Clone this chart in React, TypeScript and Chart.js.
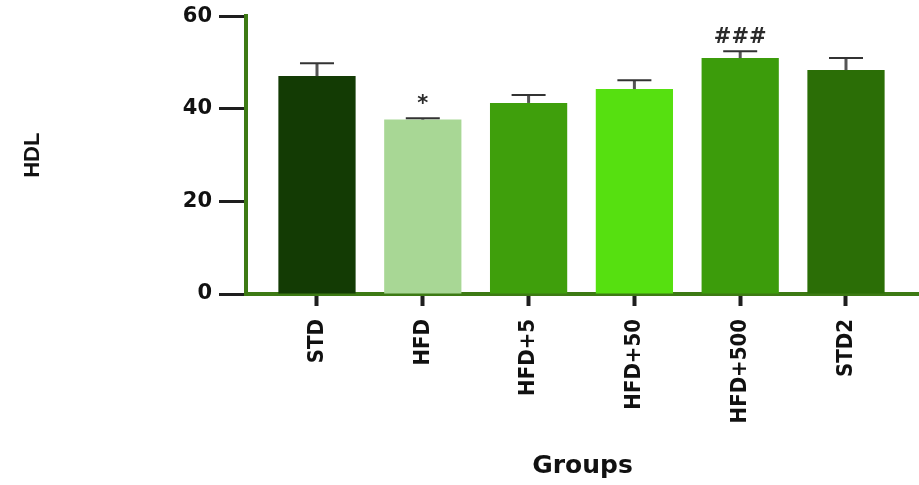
import React, { useEffect, useRef } from "react";
import { Chart, registerables } from "chart.js";

Chart.register(...registerables);

const categories = ["STD", "HFD", "HFD+5", "HFD+50", "HFD+500", "STD2"];
const hdlValues = [47.1, 37.7, 41.3, 44.3, 51.0, 48.4];
const hdlErrors = [2.8, 0.3, 1.7, 1.9, 1.5, 2.6];
const significance = ["", "*", "", "", "###", ""];
const barColors = ["#133b04", "#a8d795", "#3f9f0c", "#56e010", "#3c9c0b", "#2b6e06"];
const yTicks = [0, 20, 40, 60];

const errorBarPlugin = {
  id: "errorBars",
  afterDatasetsDraw(chart: any) {
    const ctx = chart.ctx;
    const x = chart.scales.x;
    const y = chart.scales.y;
    ctx.save();
    hdlValues.forEach((v, i) => {
      const px = x.getPixelForValue(i);
      const pTop = y.getPixelForValue(v + hdlErrors[i]);
      const pVal = y.getPixelForValue(v);
      ctx.strokeStyle = "#555555";
      ctx.lineWidth = 3;
      ctx.beginPath();
      ctx.moveTo(px, pVal);
      ctx.lineTo(px, pTop);
      ctx.stroke();
      ctx.strokeStyle = "#333333";
      ctx.lineWidth = 2;
      ctx.beginPath();
      ctx.moveTo(px - 17, pTop);
      ctx.lineTo(px + 17, pTop);
      ctx.stroke();
      if (significance[i]) {
        ctx.fillStyle = "#2a2a2a";
        ctx.font = "bold 21px 'DejaVu Sans'";
        ctx.textAlign = "center";
        ctx.textBaseline = "middle";
        ctx.fillText(significance[i], px, pTop - 14);
      }
    });
    ctx.restore();
  },
};

export default function App() {
  const ref = useRef<HTMLCanvasElement>(null);
  useEffect(() => {
    document.body.style.margin = "0";
    const canvas = ref.current!;
    const chart = new Chart(canvas, {
      type: "bar",
      data: {
        datasets: [
          {
            label: "HDL",
            data: hdlValues.map((v, i) => ({ x: i, y: v })),
            backgroundColor: barColors,
            borderWidth: 0,
            barPercentage: 0.73,
            categoryPercentage: 1,
          },
        ],
      },
      options: {
        responsive: false,
        animation: false,
        layout: { padding: { top: 15, right: 0, bottom: 0, left: 0 } },
        plugins: { legend: { display: false }, tooltip: { enabled: false } },
        scales: {
          x: {
            type: "linear",
            offset: false,
            min: -0.671,
            max: 5.69,
            z: 1,
            afterBuildTicks: (axis: any) => {
              axis.ticks = categories.map((_, i) => ({ value: i }));
            },
            afterFit: (axis: any) => {
              axis.height = 191;
            },
            grid: {
              offset: false,
              drawOnChartArea: false,
              drawTicks: true,
              tickLength: 12,
              tickWidth: 4,
              tickColor: "#1e1e1e",
            },
            border: { display: true, color: "#3d7a14", width: 4 },
            ticks: {
              autoSkip: false,
              minRotation: 90,
              maxRotation: 90,
              padding: 13,
              color: "#111111",
              font: { family: "'DejaVu Sans Condensed', 'Roboto Condensed', Roboto, sans-serif", size: 22, weight: "bold" },
              callback: (v: any) => categories[v as number] ?? "",
            },
            title: {
              display: true,
              text: "Groups",
              color: "#111111",
              padding: { top: 0, bottom: 4 },
              font: { family: "'DejaVu Sans'", size: 25, weight: "bold" },
            },
          },
          y: {
            min: 0,
            max: 60,
            z: 1,
            afterBuildTicks: (axis: any) => {
              axis.ticks = yTicks.map((t) => ({ value: t }));
            },
            afterFit: (axis: any) => {
              axis.width = 246;
            },
            grid: {
              drawOnChartArea: false,
              drawTicks: true,
              tickLength: 27,
              tickWidth: 3,
              tickColor: "#1e1e1e",
            },
            border: { display: true, color: "#3d7a14", width: 4 },
            ticks: {
              padding: 7,
              color: "#111111",
              font: { family: "'DejaVu Sans'", size: 21, weight: "bold", lineHeight: 0.9 },
            },
            title: {
              display: true,
              text: "HDL",
              color: "#111111",
              padding: { top: 20, bottom: 0 },
              font: { family: "'Liberation Sans'", size: 22, weight: "bold" },
            },
          },
        },
      },
      plugins: [errorBarPlugin],
    });
    return () => chart.destroy();
  }, []);
  return <canvas ref={ref} width={919} height={485} style={{ display: "block" }} />;
}
